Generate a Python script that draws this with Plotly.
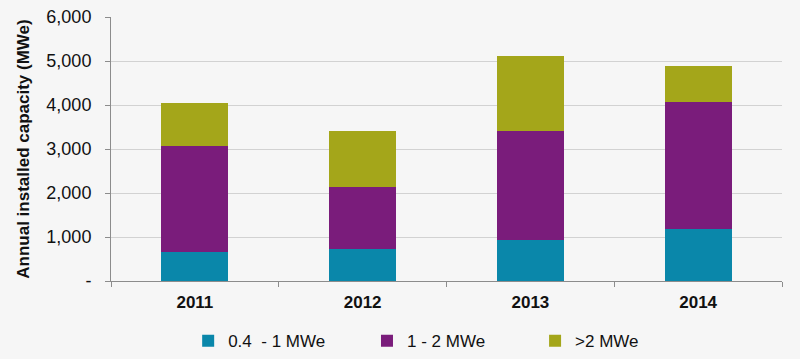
import plotly.graph_objects as go

years = ["2011", "2012", "2013", "2014"]
small = [670, 735, 930, 1190]      # 0.4 - 1 MWe
medium = [2405, 1400, 2480, 2880]  # 1 - 2 MWe
large = [965, 1280, 1705, 820]     # >2 MWe

y_ticks = [0, 1000, 2000, 3000, 4000, 5000, 6000]
y_labels = ["-", "1,000", "2,000", "3,000", "4,000", "5,000", "6,000"]

series = [
    ("0.4  - 1 MWe", small, "#0a87aa", "legend", 0.115),
    ("1 - 2 MWe", medium, "#7a1c7b", "legend2", 0.3815),
    (">2 MWe", large, "#a4a61a", "legend3", 0.632),
]

font_family = "Liberation Sans"

fig = go.Figure()
for name, vals, col, lg, _ in series:
    fig.add_trace(go.Bar(x=years, y=vals, name=name, legend=lg, showlegend=True,
                         marker=dict(color=col, line=dict(width=0))))

legend_common = dict(
    orientation="h", y=-0.228, yanchor="middle", xanchor="left",
    font=dict(size=17, family=font_family, color="#111111"),
    bgcolor="rgba(0,0,0,0)",
)
layout_legends = {}
for name, vals, col, lg, xpos in series:
    layout_legends[lg] = dict(legend_common, x=xpos)

fig.update_layout(
    showlegend=True,
    barmode="stack",
    bargap=0.6,
    width=800, height=359,
    margin=dict(l=111, r=18, t=17, b=78, autoexpand=False),
    paper_bgcolor="#f6f6f6",
    plot_bgcolor="#f6f6f6",
    font=dict(family=font_family, color="#111111", size=16),
    **layout_legends,
)
fig.update_xaxes(
    automargin=False,
    showline=True, linecolor="#8c8c8c", linewidth=1,
    ticks="outside", tickson="boundaries", ticklen=5, tickcolor="#8c8c8c",
    tickfont=dict(size=17, family=font_family, color="#111111"),
    tickprefix="<b>", ticksuffix="</b>",
    ticklabelstandoff=6,
    showgrid=False,
)
fig.update_yaxes(
    automargin=False,
    range=[0, 6000], tickvals=y_ticks, ticktext=y_labels,
    showline=True, linecolor="#8c8c8c", linewidth=1,
    ticks="outside", ticklen=5, tickcolor="#8c8c8c",
    ticklabelstandoff=10,
    showgrid=True, gridcolor="#d2d2d2", gridwidth=1,
    zeroline=False,
    tickfont=dict(size=18, family=font_family, color="#111111"),
    title=dict(text="<b>Annual installed capacity (MWe)</b>",
               font=dict(size=17, family=font_family, color="#111111"), standoff=12),
)
fig.write_html("out.html", config={"displayModeBar": False},
               post_script="document.body.style.margin='0';")
